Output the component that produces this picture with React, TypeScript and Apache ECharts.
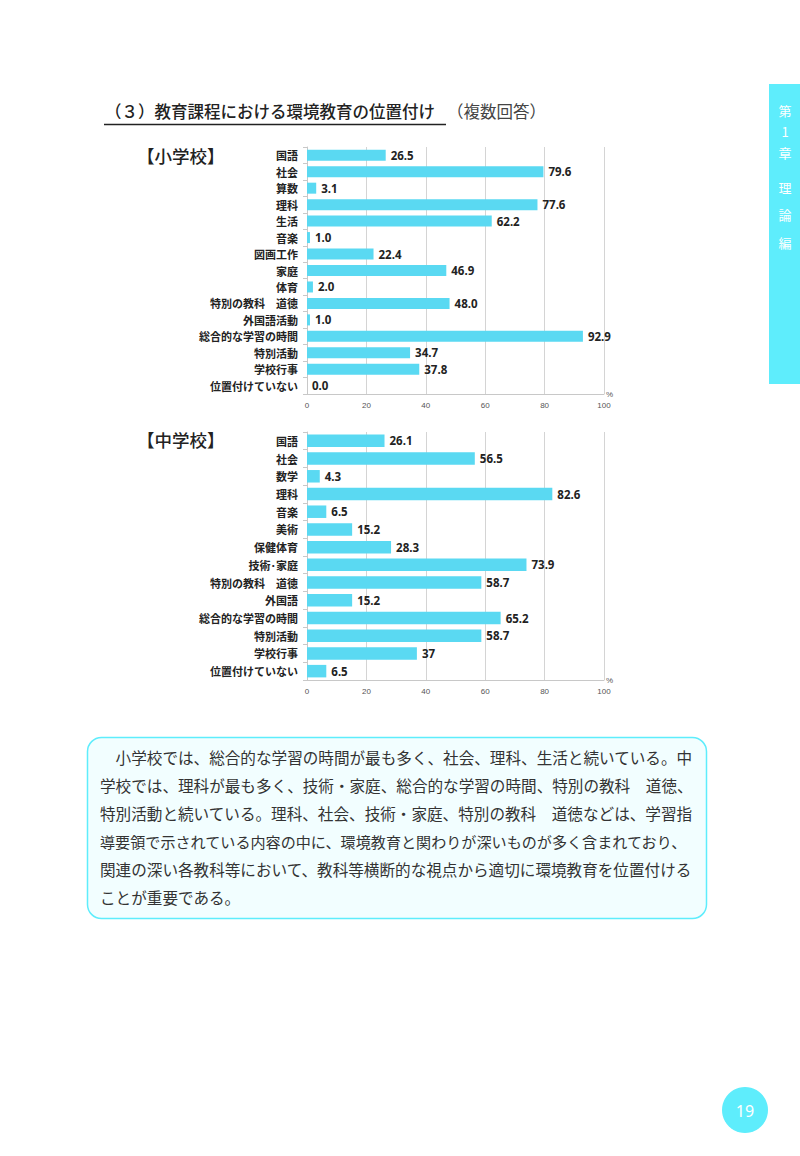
import React, { useEffect, useRef } from "react";
import * as echarts from "echarts";

const elemCategories = ["国語", "社会", "算数", "理科", "生活", "音楽", "図画工作", "家庭", "体育", "特別の教科　道徳", "外国語活動", "総合的な学習の時間", "特別活動", "学校行事", "位置付けていない"];
const elemValues = [26.5, 79.6, 3.1, 77.6, 62.2, 1.0, 22.4, 46.9, 2.0, 48.0, 1.0, 92.9, 34.7, 37.8, 0.0];
const elemLabels = ["26.5", "79.6", "3.1", "77.6", "62.2", "1.0", "22.4", "46.9", "2.0", "48.0", "1.0", "92.9", "34.7", "37.8", "0.0"];

const midCategories = ["国語", "社会", "数学", "理科", "音楽", "美術", "保健体育", "技術･家庭", "特別の教科　道徳", "外国語", "総合的な学習の時間", "特別活動", "学校行事", "位置付けていない"];
const midValues = [26.1, 56.5, 4.3, 82.6, 6.5, 15.2, 28.3, 73.9, 58.7, 15.2, 65.2, 58.7, 37, 6.5];
const midLabels = ["26.1", "56.5", "4.3", "82.6", "6.5", "15.2", "28.3", "73.9", "58.7", "15.2", "65.2", "58.7", "37", "6.5"];

const xTicks = { min: 0, max: 100, interval: 20 };

const paragraphLines = [
  "　小学校では、総合的な学習の時間が最も多く、社会、理科、生活と続いている。中",
  "学校では、理科が最も多く、技術・家庭、総合的な学習の時間、特別の教科　道徳、",
  "特別活動と続いている。理科、社会、技術・家庭、特別の教科　道徳などは、学習指",
  "導要領で示されている内容の中に、環境教育と関わりが深いものが多く含まれており、",
  "関連の深い各教科等において、教科等横断的な視点から適切に環境教育を位置付ける",
  "ことが重要である。",
];

const sideChars = ["第", "1", "章", "理", "論", "編"];
const sideY = [110, 131, 152, 187, 214, 242];

const BAR = "#5ad9f2";
const CYAN = "#5eedfc";
const JP = "'Noto Sans CJK JP', 'Noto Sans', sans-serif";

function App() {
  const ref = useRef<HTMLDivElement>(null);
  useEffect(() => {
    if (!ref.current) return;
    const chart = echarts.init(ref.current, undefined, { renderer: "svg" });

    const grids = [
      { left: 307, top: 147, width: 297, height: 247 },
      { left: 307, top: 432, width: 297, height: 248 },
    ];
    const xAxis = [0, 1].map((i) => ({
      gridIndex: i,
      type: "value",
      min: xTicks.min,
      max: xTicks.max,
      interval: xTicks.interval,
      axisLine: { show: true, lineStyle: { color: "#c8c8c8" } },
      axisTick: { show: false },
      axisLabel: { fontSize: 8, color: "#555", margin: 7, fontFamily: "Liberation Sans" },
      splitLine: { show: true, lineStyle: { color: "#d4d4d4" } },
      name: "%",
      nameLocation: "end",
      nameGap: 2,
      nameTextStyle: { fontSize: 8, color: "#555", padding: [6, 0, 0, 0], fontFamily: "Liberation Sans" },
    }));
    const cats = [elemCategories, midCategories];
    const yAxis = [0, 1].map((i) => ({
      gridIndex: i,
      type: "category",
      inverse: true,
      data: cats[i],
      axisLine: { show: true, lineStyle: { color: "#c8c8c8" } },
      axisTick: { show: true, length: 4, lineStyle: { color: "#c8c8c8" } },
      axisLabel: { fontSize: 11, fontWeight: "bold", color: "#222", margin: 9, fontFamily: JP },
      splitLine: { show: false },
    }));
    const mkSeries = (i: number, values: number[], labels: string[], bw: number) => ({
      type: "bar",
      xAxisIndex: i,
      yAxisIndex: i,
      data: values,
      barWidth: bw,
      itemStyle: { color: BAR },
      label: {
        show: true,
        position: "right",
        distance: 5,
        fontSize: 11.5,
        fontWeight: "bold",
        color: "#222",
        fontFamily: "'Noto Sans', sans-serif",
        formatter: (p: any) => labels[p.dataIndex],
      },
    });

    const graphic: any[] = [
      // title
      { type: "text", left: 105, top: 103, style: { text: "（３）教育課程における環境教育の位置付け", fontSize: 16.5, fill: "#222", fontFamily: JP, fontWeight: 500 } },
      { type: "line", shape: { x1: 104, y1: 124.5, x2: 446, y2: 124.5 }, style: { stroke: "#222", lineWidth: 1.5 } },
      { type: "text", left: 447, top: 103, style: { text: "（複数回答）", fontSize: 16.5, fill: "#444", fontFamily: JP } },
      // group labels
      { type: "text", left: 137, top: 147, style: { text: "【小学校】", fontSize: 17.5, fill: "#222", fontFamily: JP, fontWeight: 500 } },
      { type: "text", left: 137, top: 431, style: { text: "【中学校】", fontSize: 17.5, fill: "#222", fontFamily: JP, fontWeight: 500 } },
      // side tab
      { type: "rect", shape: { x: 769, y: 84, width: 31, height: 300 }, style: { fill: CYAN } },
      ...sideChars.map((c, k) => ({
        type: "text",
        x: 785,
        y: sideY[k],
        style: { text: c, fontSize: 13, fill: "#fff", fontFamily: JP, align: "center", verticalAlign: "middle" },
      })),
      // text box
      { type: "rect", shape: { x: 87.5, y: 737.5, width: 619, height: 181, r: 14 }, style: { fill: "#f2feff", stroke: CYAN, lineWidth: 1.5 } },
      ...paragraphLines.map((t, k) => ({
        type: "text",
        x: 100,
        y: 757 + k * 28,
        style: { text: t, fontSize: k === 3 ? 15.1 : 15.6, fill: "#333", fontFamily: JP, verticalAlign: "middle" },
      })),
      // page number
      { type: "circle", shape: { cx: 745, cy: 1110, r: 23 }, style: { fill: CYAN } },
      { type: "text", x: 745, y: 1111, style: { text: "19", fontSize: 16, fill: "#fff", fontFamily: "'Noto Sans', sans-serif", align: "center", verticalAlign: "middle" } },
    ];

    chart.setOption({
      animation: false,
      backgroundColor: "#fff",
      grid: grids,
      xAxis,
      yAxis,
      series: [mkSeries(0, elemValues, elemLabels, 11), mkSeries(1, midValues, midLabels, 12.5)],
      graphic,
    });
    return () => chart.dispose();
  }, []);
  return <div ref={ref} style={{ position: "absolute", left: 0, top: 0, width: 800, height: 1156 }} />;
}

export default App;
